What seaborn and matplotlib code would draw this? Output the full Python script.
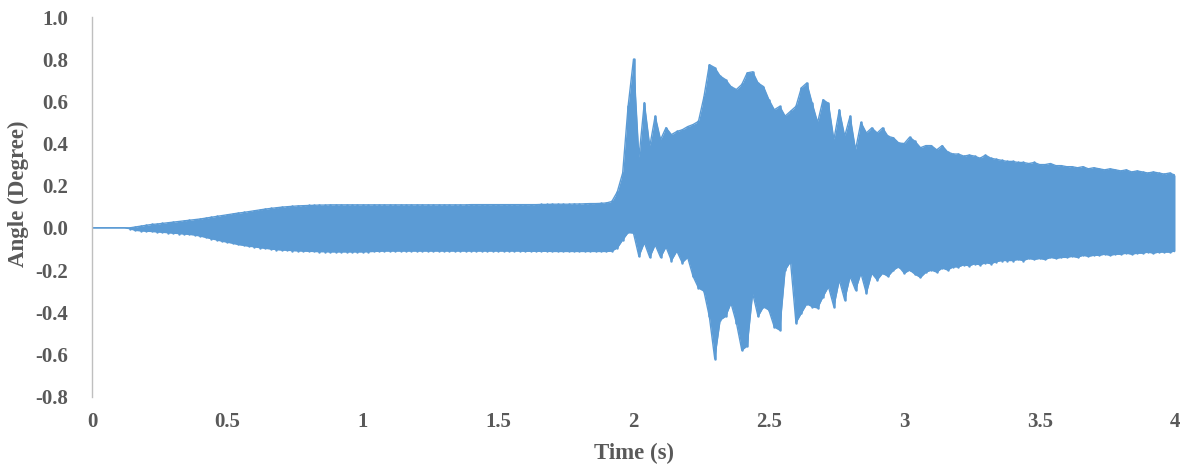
import numpy as np
import pandas as pd
import matplotlib
matplotlib.use("Agg")
import matplotlib.pyplot as plt
import seaborn as sns

# Sampling grid of the response (s)
time_s = np.linspace(0.0, 4.0, 201)

# Positive peaks of the angle response (deg), one row per 0.2 s
upper_deg = np.array([
    0.000, 0.000, 0.000, 0.000, 0.000, 0.000, 0.000, 0.000, 0.004, 0.008,
    0.012, 0.016, 0.018, 0.021, 0.024, 0.027, 0.030, 0.033, 0.036, 0.039,
    0.042, 0.046, 0.050, 0.054, 0.058, 0.062, 0.066, 0.070, 0.073, 0.077,
    0.081, 0.085, 0.089, 0.092, 0.095, 0.098, 0.100, 0.102, 0.104, 0.105,
    0.106, 0.107, 0.108, 0.108, 0.109, 0.109, 0.109, 0.109, 0.109, 0.109,
    0.109, 0.109, 0.109, 0.109, 0.109, 0.109, 0.109, 0.109, 0.109, 0.109,
    0.109, 0.109, 0.109, 0.109, 0.109, 0.109, 0.109, 0.109, 0.109, 0.109,
    0.110, 0.110, 0.110, 0.110, 0.110, 0.110, 0.110, 0.110, 0.110, 0.110,
    0.110, 0.110, 0.110, 0.111, 0.111, 0.112, 0.112, 0.112, 0.112, 0.113,
    0.113, 0.114, 0.115, 0.115, 0.116, 0.118, 0.125, 0.170, 0.260, 0.576,
    0.800, 0.332, 0.594, 0.386, 0.530, 0.418, 0.475, 0.442, 0.457, 0.465,
    0.480, 0.490, 0.505, 0.620, 0.774, 0.760, 0.720, 0.703, 0.670, 0.656,
    0.680, 0.735, 0.740, 0.687, 0.670, 0.608, 0.560, 0.576, 0.530, 0.553,
    0.576, 0.664, 0.687, 0.590, 0.500, 0.608, 0.590, 0.418, 0.560, 0.434,
    0.530, 0.370, 0.500, 0.450, 0.474, 0.450, 0.474, 0.434, 0.427, 0.402,
    0.400, 0.430, 0.410, 0.380, 0.390, 0.390, 0.370, 0.390, 0.360, 0.350,
    0.350, 0.340, 0.345, 0.340, 0.330, 0.345, 0.330, 0.325, 0.320, 0.315,
    0.315, 0.310, 0.310, 0.305, 0.310, 0.300, 0.300, 0.305, 0.295, 0.295,
    0.290, 0.290, 0.285, 0.290, 0.280, 0.285, 0.280, 0.275, 0.280, 0.275,
    0.270, 0.275, 0.265, 0.270, 0.265, 0.260, 0.265, 0.260, 0.255, 0.260,
    0.250,
])

# Negative peaks of the angle response (deg), one row per 0.2 s
lower_deg = np.array([
    0.000, 0.000, 0.000, 0.000, 0.000, 0.000, 0.000, -0.004, -0.012, -0.014,
    -0.016, -0.017, -0.019, -0.021, -0.023, -0.025, -0.027, -0.029, -0.031, -0.034,
    -0.039, -0.045, -0.051, -0.057, -0.063, -0.068, -0.073, -0.079, -0.083, -0.087,
    -0.090, -0.094, -0.097, -0.100, -0.103, -0.105, -0.106, -0.108, -0.109, -0.110,
    -0.111, -0.112, -0.113, -0.113, -0.114, -0.114, -0.114, -0.114, -0.114, -0.114,
    -0.114, -0.113, -0.112, -0.111, -0.110, -0.110, -0.110, -0.110, -0.110, -0.110,
    -0.110, -0.110, -0.110, -0.110, -0.110, -0.110, -0.110, -0.110, -0.110, -0.110,
    -0.110, -0.110, -0.110, -0.110, -0.110, -0.110, -0.110, -0.110, -0.110, -0.110,
    -0.111, -0.111, -0.111, -0.111, -0.111, -0.112, -0.112, -0.112, -0.112, -0.112,
    -0.112, -0.112, -0.112, -0.112, -0.112, -0.112, -0.110, -0.095, -0.057, -0.022,
    -0.025, -0.135, -0.070, -0.140, -0.080, -0.140, -0.090, -0.155, -0.110, -0.165,
    -0.140, -0.230, -0.285, -0.300, -0.420, -0.620, -0.437, -0.420, -0.357, -0.450,
    -0.580, -0.560, -0.310, -0.420, -0.374, -0.390, -0.470, -0.485, -0.200, -0.160,
    -0.450, -0.404, -0.360, -0.374, -0.380, -0.326, -0.279, -0.374, -0.247, -0.342,
    -0.230, -0.295, -0.215, -0.310, -0.215, -0.247, -0.215, -0.230, -0.200, -0.184,
    -0.215, -0.200, -0.220, -0.235, -0.210, -0.200, -0.210, -0.190, -0.200, -0.185,
    -0.185, -0.175, -0.180, -0.170, -0.175, -0.165, -0.170, -0.160, -0.155, -0.155,
    -0.155, -0.150, -0.155, -0.145, -0.150, -0.145, -0.150, -0.140, -0.145, -0.140,
    -0.140, -0.135, -0.140, -0.130, -0.135, -0.130, -0.130, -0.125, -0.130, -0.125,
    -0.125, -0.120, -0.125, -0.120, -0.120, -0.115, -0.120, -0.115, -0.115, -0.115,
    -0.110,
])

y_ticks = [-0.8, -0.6, -0.4, -0.2, 0.0, 0.2, 0.4, 0.6, 0.8, 1.0]
y_tick_labels = ["-0.8", "-0.6", "-0.4", "-0.2", "0.0", "0.2", "0.4", "0.6", "0.8", "1.0"]
x_ticks = [0, 0.5, 1, 1.5, 2, 2.5, 3, 3.5, 4]
x_tick_labels = ["0", "0.5", "1", "1.5", "2", "2.5", "3", "3.5", "4"]

BLUE = "#5B9BD5"
TEXT = "#595959"

sns.set_style("white")
plt.rcParams["font.family"] = ["Liberation Serif", "DejaVu Serif"]
plt.rcParams["font.weight"] = "bold"

W, H = 1186, 466
fig = plt.figure(figsize=(W / 100, H / 100), dpi=100)
ax = fig.add_axes([92 / W, 1 - 396.5 / H, (1175 - 92) / W, (396.5 - 17) / H])

df = pd.DataFrame({"t": time_s, "upper": upper_deg, "lower": lower_deg})

# Body of the oscillation between its positive and negative peaks
ax.fill_between(df["t"], df["lower"], df["upper"], color=BLUE, lw=0)
sns.lineplot(data=df, x="t", y="upper", ax=ax, color=BLUE, lw=1.0, estimator=None)
sns.lineplot(data=df, x="t", y="lower", ax=ax, color=BLUE, lw=1.0, estimator=None)

# One swing per sample: a thin vertical stroke from trough to crest
swings = pd.DataFrame({
    "t": np.repeat(time_s, 2),
    "angle": np.column_stack([lower_deg, upper_deg]).ravel(),
})
sns.lineplot(data=swings, x="t", y="angle", units="t", estimator=None, ax=ax,
             color=BLUE, lw=1.8, legend=False)

ax.set_xlim(0, 4)
ax.set_ylim(-0.8, 1.0)
ax.set_xticks(x_ticks)
ax.set_xticklabels(x_tick_labels)
ax.set_yticks(y_ticks)
ax.set_yticklabels(y_tick_labels)

ax.tick_params(axis="both", length=0, labelsize=15, labelcolor=TEXT)
ax.tick_params(axis="x", pad=11)
ax.tick_params(axis="y", pad=17)
for lab in ax.get_xticklabels() + ax.get_yticklabels():
    lab.set_fontweight("bold")

ax.set_xlabel("Time (s)", fontsize=16.5, fontweight="bold", color=TEXT)
ax.set_ylabel("Angle (Degree)", fontsize=16.5, fontweight="bold", color=TEXT)
ax.xaxis.set_label_coords(0.5, -0.149)
ax.xaxis.label.set_verticalalignment("center")
ax.yaxis.set_label_coords(-0.068, 0.534)
ax.yaxis.label.set_verticalalignment("center")

for side in ("top", "right", "bottom"):
    ax.spines[side].set_visible(False)
ax.spines["left"].set_color("#BFBFBF")
ax.spines["left"].set_linewidth(1.0)
ax.grid(False)

fig.savefig("out.png", dpi=100, facecolor="white")
